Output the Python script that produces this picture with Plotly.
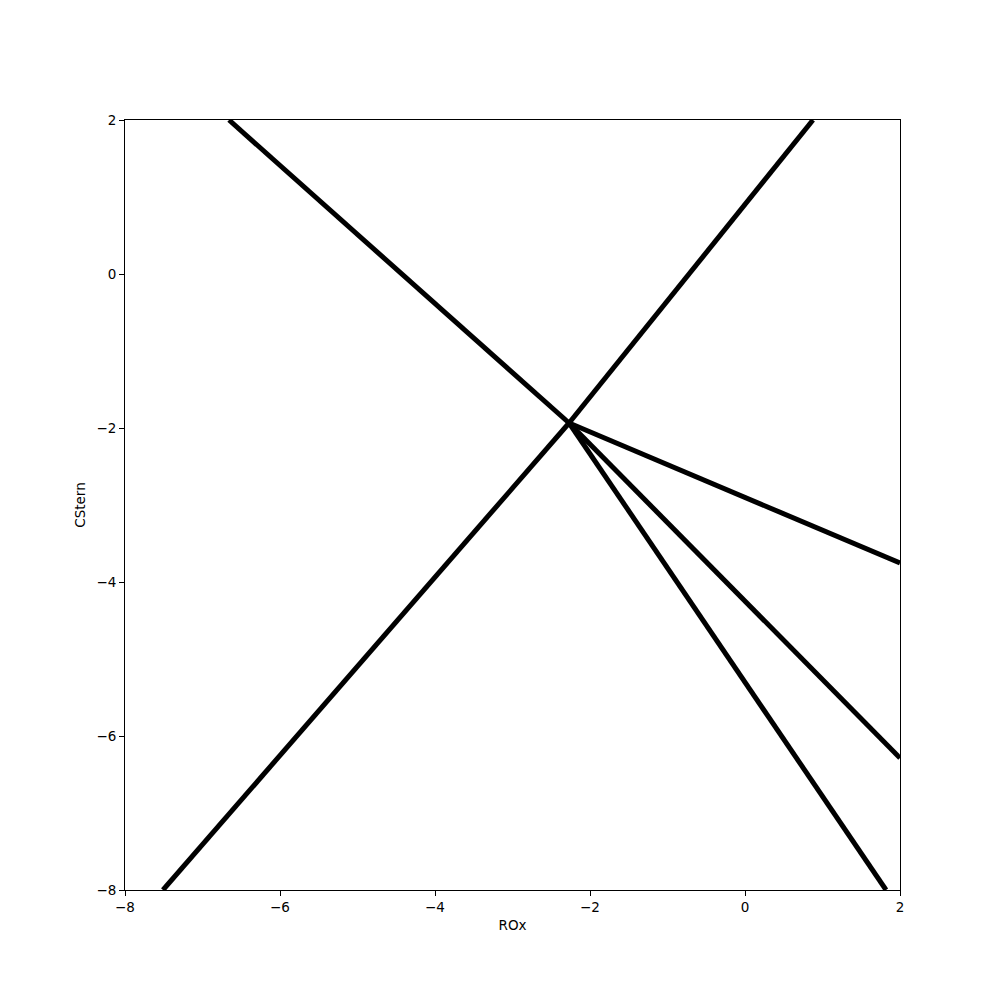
import plotly.graph_objects as go

# Common meeting point of the boundary lines (ROx, CStern)
center_x = -2.27
center_y = -1.935

# Far ends of each boundary ray
ray_end_x = [-6.658, 0.877, -7.51, 2.0, 2.0, 1.82]
ray_end_y = [2.0, 2.0, -8.0, -3.753, -6.286, -8.0]

tick_vals = [-8, -6, -4, -2, 0, 2]

fig = go.Figure()
for ex, ey in zip(ray_end_x, ray_end_y):
    fig.add_trace(go.Scatter(
        x=[center_x, ex], y=[center_y, ey], mode="lines",
        line=dict(color="black", width=5), showlegend=False,
        hoverinfo="skip"))

axis_common = dict(
    showgrid=False, zeroline=False, showline=True, linecolor="black",
    linewidth=1, mirror=True, ticks="outside", ticklen=5, tickwidth=1,
    tickcolor="black", tickvals=tick_vals,
    tickfont=dict(family="DejaVu Sans", size=13.5, color="black"),
)

fig.update_layout(
    width=1000, height=1000,
    margin=dict(l=117, r=108, t=112, b=118),
    plot_bgcolor="white", paper_bgcolor="white",
    xaxis=dict(range=[-8, 2], title=dict(text="ROx", standoff=6,
               font=dict(family="DejaVu Sans", size=13.5, color="black")),
               **axis_common),
    yaxis=dict(range=[-8, 2], title=dict(text="CStern", standoff=7,
               font=dict(family="DejaVu Sans", size=13.5, color="black")),
               **axis_common),
)

fig.write_html("out.html")
